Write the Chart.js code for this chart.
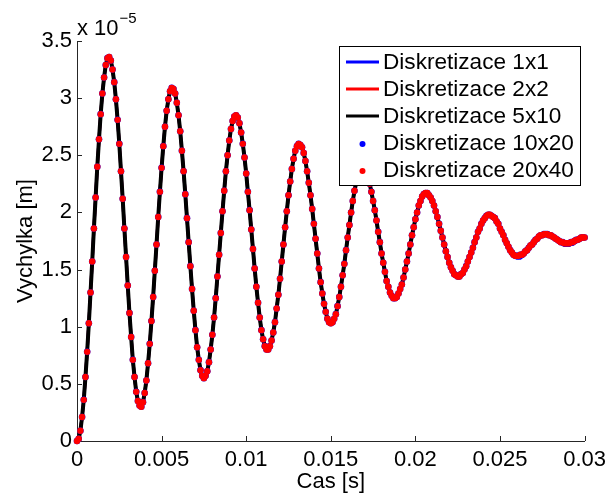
<!DOCTYPE html>
<html>
<head>
<meta charset="utf-8">
<script src="https://cdn.jsdelivr.net/npm/chart.js@4/dist/chart.umd.min.js"></script>
<style>
  html, body { margin: 0; padding: 0; background: #ffffff; }
  canvas { display: block; }
</style>
</head>
<body>
<canvas id="graf" width="612" height="493"></canvas>
<script>
// Casova osa: vzorky po 0.1 ms od 0 do 0.03 s
const krok = 1e-4;
const cas = Array.from({ length: 301 }, (_, i) => +(i * krok).toFixed(4));

// Vychylka [x 1e-5 m] v jednotlivych casovych vzorcich
const vychylka = [
  0.00, 0.02, 0.09, 0.21, 0.36, 0.56, 0.78, 1.03, 1.30, 1.57, 1.86, 2.13, 2.40, 2.64, 2.86, 3.04, 3.18, 3.29, 3.35,
  3.36, 3.33, 3.25, 3.14, 2.99, 2.81, 2.60, 2.36, 2.12, 1.86, 1.61, 1.36, 1.12, 0.91, 0.71, 0.56, 0.43, 0.35, 0.31,
  0.30, 0.34, 0.42, 0.53, 0.68, 0.85, 1.05, 1.26, 1.49, 1.72, 1.96, 2.18, 2.39, 2.58, 2.75, 2.89, 2.99, 3.06, 3.09,
  3.08, 3.04, 2.96, 2.85, 2.71, 2.54, 2.36, 2.16, 1.95, 1.74, 1.53, 1.33, 1.14, 0.97, 0.82, 0.71, 0.62, 0.57, 0.55,
  0.57, 0.61, 0.69, 0.80, 0.93, 1.08, 1.25, 1.44, 1.63, 1.82, 2.01, 2.19, 2.36, 2.50, 2.63, 2.73, 2.80, 2.84,
  2.85, 2.83, 2.78, 2.70, 2.60, 2.48, 2.34, 2.18, 2.02, 1.85, 1.68, 1.51, 1.35, 1.21, 1.08, 0.97, 0.89, 0.83, 0.80,
  0.80, 0.83, 0.88, 0.95, 1.04, 1.16, 1.28, 1.42, 1.57, 1.72, 1.87, 2.01, 2.15, 2.27, 2.38, 2.47, 2.54, 2.58, 2.60,
  2.59, 2.57, 2.52, 2.45, 2.36, 2.26, 2.15, 2.03, 1.90, 1.77, 1.64, 1.51, 1.39, 1.29, 1.20, 1.13, 1.07, 1.04, 1.03,
  1.04, 1.07, 1.11, 1.18, 1.26, 1.35, 1.45, 1.55, 1.67, 1.78, 1.89, 2.00, 2.10, 2.19, 2.26, 2.32, 2.36, 2.38,
  2.39, 2.38, 2.35, 2.31, 2.25, 2.18, 2.10, 2.02, 1.93, 1.83, 1.74, 1.64, 1.56, 1.48, 1.40, 1.35, 1.30, 1.27, 1.25,
  1.25, 1.26, 1.29, 1.33, 1.37, 1.43, 1.50, 1.57, 1.64, 1.72, 1.80, 1.87, 1.94, 2.00, 2.06, 2.10, 2.14, 2.16, 2.17,
  2.17, 2.15, 2.13, 2.10, 2.06, 2.01, 1.96, 1.90, 1.84, 1.78, 1.72, 1.66, 1.61, 1.56, 1.52, 1.49, 1.46, 1.45, 1.44,
  1.44, 1.46, 1.47, 1.50, 1.53, 1.57, 1.61, 1.65, 1.69, 1.74, 1.78, 1.83, 1.86, 1.90, 1.93, 1.95, 1.97, 1.98,
  1.98, 1.97, 1.96, 1.95, 1.92, 1.90, 1.86, 1.83, 1.80, 1.76, 1.73, 1.70, 1.67, 1.65, 1.63, 1.62, 1.62,
  1.62, 1.63, 1.63, 1.64, 1.66, 1.67, 1.69, 1.71, 1.72, 1.74, 1.76, 1.77, 1.79, 1.80, 1.80, 1.81, 1.81,
  1.81, 1.80, 1.80, 1.79, 1.78, 1.77, 1.76, 1.75, 1.74, 1.74, 1.73, 1.73,
  1.73, 1.73, 1.74, 1.74, 1.75, 1.76, 1.76, 1.77, 1.78, 1.78, 1.78
];

// Nejhrubsi sit (1x1) se lisi az v zaveru kmitani (od 0.0241 s)
const konec1x1 = [
  1.95, 1.97, 1.98, 1.99, 1.98, 1.97, 1.95, 1.93, 1.90, 1.87,
  1.84, 1.80, 1.77, 1.73, 1.70, 1.67, 1.64, 1.62, 1.61, 1.60,
  1.60, 1.60, 1.61, 1.62, 1.64, 1.65, 1.67, 1.69, 1.71, 1.73,
  1.75, 1.77, 1.78, 1.79, 1.80, 1.81, 1.81, 1.81, 1.80, 1.79,
  1.78, 1.77, 1.76, 1.75, 1.74, 1.73, 1.72, 1.71, 1.71, 1.71,
  1.71, 1.72, 1.72, 1.73, 1.74, 1.75, 1.76, 1.76, 1.77, 1.77
];
const vychylka1x1 = vychylka.slice(0, 241).concat(konec1x1);

const popiskyX = ['0', '0.005', '0.01', '0.015', '0.02', '0.025', '0.03'];
const popiskyY = ['0', '0.5', '1', '1.5', '2', '2.5', '3', '3.5'];
const nazvy = ['Diskretizace 1x1', 'Diskretizace 2x2', 'Diskretizace 5x10', 'Diskretizace 10x20', 'Diskretizace 20x40'];

const PISMO = '"Liberation Sans", Arial, Helvetica, sans-serif';
const body = hodnoty => hodnoty.map((v, i) => ({ x: cas[i], y: v }));

// Kratke znacky dovnitr grafu u kazdeho dilku os
const vnitrniZnacky = {
  id: 'vnitrniZnacky',
  beforeDatasetsDraw(chart) {
    const { ctx, chartArea, scales } = chart;
    ctx.save();
    ctx.strokeStyle = '#262626';
    ctx.lineWidth = 1;
    ctx.beginPath();
    scales.x.ticks.forEach(t => {
      const px = Math.round(scales.x.getPixelForValue(t.value)) + 0.5;
      ctx.moveTo(px, chartArea.bottom);
      ctx.lineTo(px, chartArea.bottom - 5);
    });
    scales.y.ticks.forEach(t => {
      const py = Math.round(scales.y.getPixelForValue(t.value)) + 0.5;
      ctx.moveTo(chartArea.left, py);
      ctx.lineTo(chartArea.left + 5, py);
    });
    ctx.stroke();
    ctx.restore();
  }
};

// Nasobitel osy y a legenda v ramecku
const popisy = {
  id: 'popisy',
  afterDatasetsDraw(chart) {
    const { ctx, chartArea } = chart;
    ctx.save();
    ctx.fillStyle = '#000';
    ctx.textBaseline = 'alphabetic';
    ctx.textAlign = 'left';
    ctx.font = '22px ' + PISMO;
    ctx.fillText('x 10', chartArea.left, 35);
    const w = ctx.measureText('x 10').width;
    ctx.font = '15px ' + PISMO;
    ctx.fillText('\u22125', chartArea.left + w + 1, 23);

    const lx = 339.5, ly = 46.5, lw = 241, lh = 139;
    ctx.fillStyle = '#fff';
    ctx.fillRect(lx, ly, lw, lh);
    ctx.strokeStyle = '#000';
    ctx.lineWidth = 1;
    ctx.strokeRect(lx, ly, lw, lh);

    ctx.font = '22.6px ' + PISMO;
    ctx.textBaseline = 'middle';
    chart.data.datasets.forEach((ds, i) => {
      const y = 63 + i * 27;
      if (ds.showLine) {
        ctx.strokeStyle = ds.borderColor;
        ctx.lineWidth = 3;
        ctx.beginPath();
        ctx.moveTo(346, y - 1);
        ctx.lineTo(379, y - 1);
        ctx.stroke();
      } else {
        ctx.fillStyle = ds.backgroundColor;
        ctx.beginPath();
        ctx.arc(362.5, y, 3, 0, Math.PI * 2);
        ctx.fill();
      }
      ctx.fillStyle = '#000';
      ctx.fillText(ds.label, 383, y);
    });
    ctx.restore();
  }
};

const cara = (label, hodnoty, barva, sirka, poradi) => ({
  label, data: body(hodnoty), showLine: true, borderColor: barva, backgroundColor: barva,
  borderWidth: sirka, pointRadius: 0, tension: 0, order: poradi, clip: false,
  borderCapStyle: 'round', borderJoinStyle: 'round'
});
const tecky = (label, hodnoty, barva, polomer, poradi) => ({
  label, data: body(hodnoty), showLine: false, borderColor: barva, backgroundColor: barva,
  pointRadius: polomer, pointBorderWidth: 0, pointHoverRadius: polomer, order: poradi, clip: false
});

new Chart(document.getElementById('graf'), {
  type: 'scatter',
  data: {
    datasets: [
      cara(nazvy[0], vychylka1x1, '#0000ff', 3, 4),
      cara(nazvy[1], vychylka, '#ff0000', 3, 3),
      cara(nazvy[2], vychylka, '#000000', 4, 2),
      tecky(nazvy[3], vychylka, '#0000ff', 3.3, 1),
      tecky(nazvy[4], vychylka, '#ff0000', 3.2, 0)
    ]
  },
  options: {
    responsive: false,
    animation: false,
    devicePixelRatio: 1,
    events: [],
    layout: { padding: { top: 41, right: 26, left: 0, bottom: 0 } },
    plugins: { legend: { display: false }, tooltip: { enabled: false } },
    scales: {
      x: {
        type: 'linear', position: 'bottom', min: 0, max: 0.03,
        grid: { display: false, drawTicks: false },
        border: { display: true, color: '#262626', width: 1 },
        ticks: {
          stepSize: 0.005, padding: 6, color: '#000', maxRotation: 0,
          font: { family: PISMO, size: 22 },
          callback: (v, i) => popiskyX[i]
        },
        title: {
          display: true, text: 'Cas [s]', color: '#000',
          font: { family: PISMO, size: 22 }, padding: { top: 0, bottom: -2 }
        },
        afterFit: s => { s.height = 52; }
      },
      y: {
        type: 'linear', min: 0, max: 3.5,
        grid: { display: false, drawTicks: false },
        border: { display: true, color: '#262626', width: 1 },
        ticks: {
          stepSize: 0.5, padding: 5, color: '#000',
          font: { family: PISMO, size: 22 },
          callback: (v, i) => popiskyY[i]
        },
        title: {
          display: true, text: 'Vychylka [m]', color: '#000',
          font: { family: PISMO, size: 22 }, padding: { top: 13, bottom: 0 }
        },
        afterFit: s => { s.width = 77; }
      }
    }
  },
  plugins: [vnitrniZnacky, popisy]
});
</script>
</body>
</html>
